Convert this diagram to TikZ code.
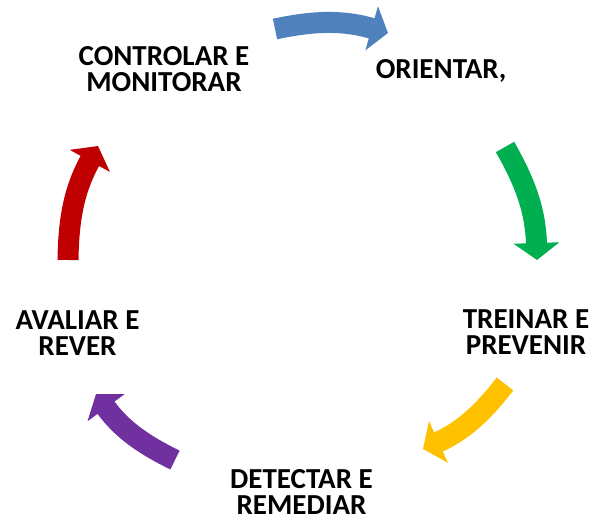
\documentclass[tikz,border=0pt]{standalone}
\usepackage{fontspec}
\setmainfont{Carlito}
\usetikzlibrary{arrows.meta}
\definecolor{cblue}{HTML}{4F81BD}
\definecolor{cgreen}{HTML}{00B050}
\definecolor{cyellow}{HTML}{FFC000}
\definecolor{cpurple}{HTML}{7030A0}
\definecolor{cred}{HTML}{C00000}
\begin{document}
\begin{tikzpicture}[x=1pt,y=1pt,
        lbl/.style={align=center,inner sep=0pt,font=\fontsize{29}{26}\selectfont\bfseries},
        seta/.style={line width=21pt,-{Triangle[width=45pt,length=17pt]},bend left=14}]
                \useasboundingbox (0,0) rectangle (591,527);
                \node[lbl](Controlar)at(164, 457.5){CONTROLAR E\\MONITORAR};
                \node[lbl,anchor=base](Orientar)at(441, 448){ORIENTAR,};
                \node[lbl](Treinar)at(526, 194.5){TREINAR E\\PREVENIR};
                \node[lbl](Detectar)at(301.5, 35){DETECTAR E\\REMEDIAR};
                \node[lbl](Avaliar)at(77.5, 193.5){AVALIAR E\\REVER};
                \coordinate(b0)at(275, 498);
                \coordinate(b1)at(388, 494);
                \coordinate(g0)at(505, 380);
                \coordinate(g1)at(537, 267);
                \coordinate(y0)at(505, 143);
                \coordinate(y1)at(423, 78);
                \coordinate(p0)at(175, 67);
                \coordinate(p1)at(96, 133);
                \coordinate(r0)at(68, 267);
                \coordinate(r1)at(98, 381);
                \path[](b0) edge [seta,draw=cblue] (b1)
                (g0) edge [seta,draw=cgreen] (g1)
                (y0) edge [seta,draw=cyellow] (y1)
                (p0) edge [seta,draw=cpurple] (p1)
                (r0) edge [seta,draw=cred] (r1);
            \end{tikzpicture}
\end{document}
